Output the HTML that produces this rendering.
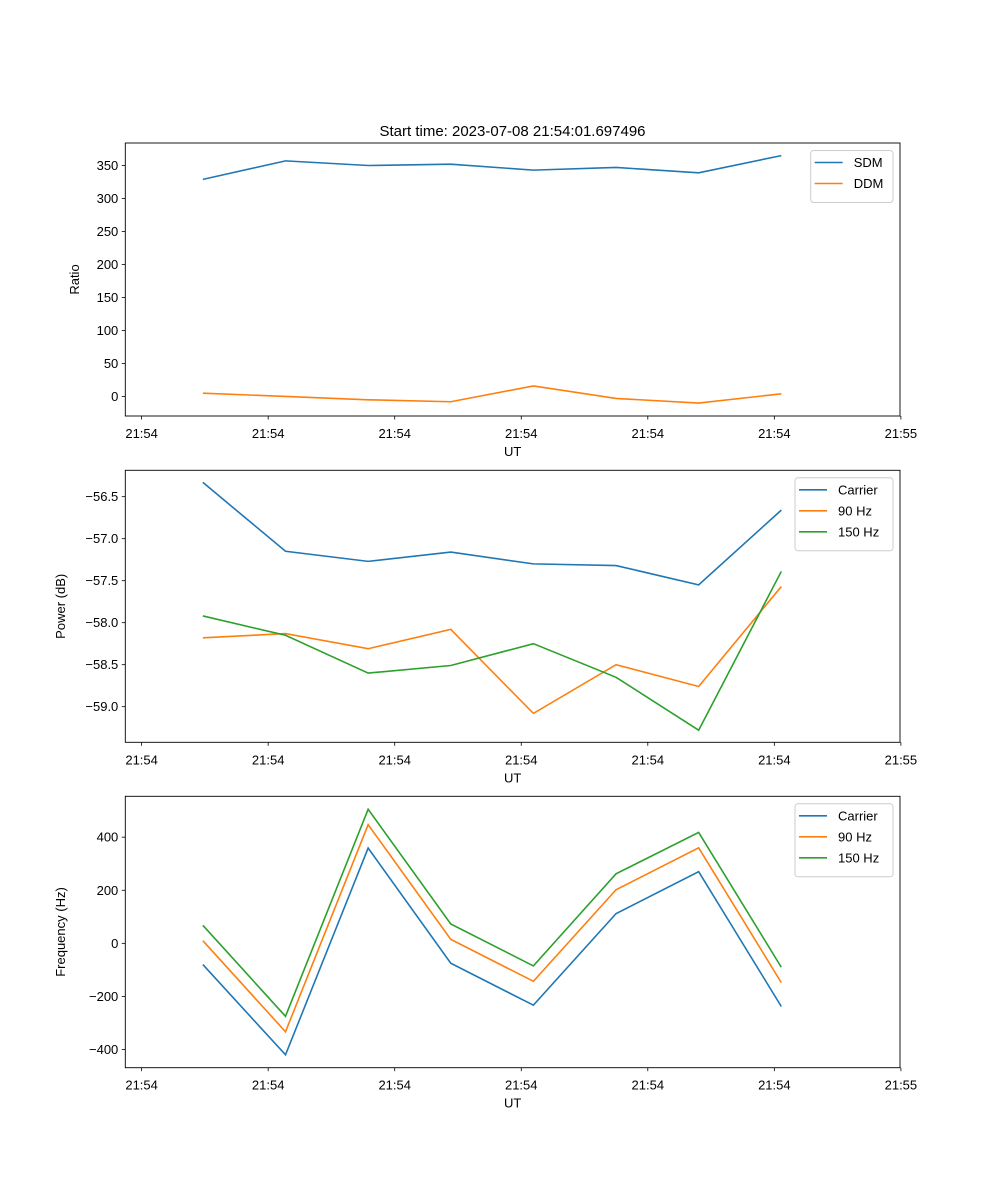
<!DOCTYPE html>
<html><head><meta charset="utf-8"><style>
body{margin:0;background:#fff}
svg{display:block;font-family:"Liberation Sans","DejaVu Sans",sans-serif}
</style></head><body>
<svg id="fig" width="1000" height="1200" viewBox="0 0 1000 1200" xmlns="http://www.w3.org/2000/svg">
<rect width="1000" height="1200" fill="#fff"/>
<text x="512.5" y="136" font-size="15" text-anchor="middle">Start time: 2023-07-08 21:54:01.697496</text>
</svg>
<script>
// sample times (seconds after 21:54:00)
const times = [4.84, 11.37, 17.9, 24.43, 30.96, 37.49, 44.02, 50.55];
const xTickVals = [0, 10, 20, 30, 40, 50, 60];
const xTickLabels = ["21:54","21:54","21:54","21:54","21:54","21:54","21:55"];
// panel 1
const sdm = [329, 357, 350, 352, 343, 347, 339, 365];
const ddm = [5, 0, -5, -8, 16, -3, -10, 4];
const ratioTicks = [0, 50, 100, 150, 200, 250, 300, 350];
// panel 2
const powCarrier = [-56.33, -57.15, -57.27, -57.16, -57.30, -57.32, -57.55, -56.66];
const pow90 = [-58.18, -58.13, -58.31, -58.08, -59.08, -58.50, -58.76, -57.57];
const pow150 = [-57.92, -58.15, -58.60, -58.51, -58.25, -58.65, -59.28, -57.39];
const powTicks = [-59.0, -58.5, -58.0, -57.5, -57.0, -56.5];
const powTickLabels = ["\u221259.0","\u221258.5","\u221258.0","\u221257.5","\u221257.0","\u221256.5"];
// panel 3
const freqCarrier = [-80, -420, 359, -75, -233, 112, 270, -238];
const freq90 = [10, -333, 447, 15, -143, 202, 360, -148];
const freq150 = [68, -275, 505, 73, -85, 262, 418, -90];
const freqTicks = [-400, -200, 0, 200, 400];
const freqTickLabels = ["\u2212400","\u2212200","0","200","400"];

const NS = "http://www.w3.org/2000/svg";
const svg = document.getElementById('fig');
const L = 125.3, R = 900;
const x = t => L + (t - (-1.29)) / (59.93 - (-1.29)) * (R - L);
function mk(tag, attrs, parent){const e=document.createElementNS(NS,tag);for(const k in attrs)e.setAttribute(k,attrs[k]);(parent||svg).appendChild(e);return e;}

function panel(id, top, bot, ymin, ymax, yTicks, yLabels, ylabel, series, legendW){
  const g = mk('g', {});
  
  
  const y = v => bot - (v - ymin) / (ymax - ymin) * (bot - top);
  yTicks.forEach((v,i)=>{
    const yy=y(v);
    const ln=mk('line',{x1:L-3.5,x2:L,y1:yy,y2:yy,stroke:'#000','stroke-width':0.8},g);
    
    
    const t=mk('text',{x:L-7,y:yy+4.5,'font-size':13,'text-anchor':'end'},g);
    
    
    t.textContent=yLabels[i];
  });
  xTickVals.forEach((v,i)=>{
    const xx=x(v);
    const ln=mk('line',{x1:xx,x2:xx,y1:bot,y2:bot+3.5,stroke:'#000','stroke-width':0.8},g);
    
    
    const t=mk('text',{x:xx,y:bot+22,'font-size':13,'text-anchor':'middle'},g);
    
    
    t.textContent=xTickLabels[i];
  });
  const xl=mk('text',{x:(L+R)/2,y:bot+40,'font-size':13,'text-anchor':'middle'},g);
  
  
  xl.textContent='UT';
  const cy=(top+bot)/2;
  const yl=mk('text',{x:0,y:0,'font-size':13,'text-anchor':'middle',transform:`translate(${id==='ratio'?79:65},${cy}) rotate(-90)`},g);
  
  
  yl.textContent=ylabel;
  series.forEach(s=>{
    const p=mk('polyline',{points:s.data.map((v,i)=>x(times[i])+','+y(v)).join(' '),fill:'none',stroke:s.color,'stroke-width':1.6},g);
    
    
  });
  const fr=mk('rect',{x:L,y:top,width:R-L,height:bot-top,fill:'none',stroke:'#000','stroke-width':0.9},g);
  
  
  const lx=893-legendW, ly=top+7.5, lh=10+series.length*21;
  const lg=mk('g',{},g);
  
  
  mk('rect',{x:lx,y:ly,width:legendW,height:lh,rx:3,fill:'#fff','fill-opacity':0.8,stroke:'#ccc','stroke-width':1},lg);
  series.forEach((s,i)=>{
    const ry=ly+12+i*21;
    const e=mk('g',{},lg);
    
    
    mk('line',{x1:lx+4,x2:lx+32,y1:ry,y2:ry,stroke:s.color,'stroke-width':1.6},e);
    const t=mk('text',{x:lx+43,y:ry+4.5,'font-size':13},e);
    t.textContent=s.name;
  });
}
const C1='#1f77b4',C2='#ff7f0e',C3='#2ca02c';
panel('ratio',143,416,-29.6,384.1,ratioTicks,ratioTicks.map(String),'Ratio',
  [{key:'sdm',name:'SDM',data:sdm,color:C1},{key:'ddm',name:'DDM',data:ddm,color:C2}],82.3);
panel('power',470.3,742.3,-59.424,-56.186,powTicks,powTickLabels,'Power (dB)',
  [{key:'carrier',name:'Carrier',data:powCarrier,color:C1},{key:'90hz',name:'90 Hz',data:pow90,color:C2},{key:'150hz',name:'150 Hz',data:pow150,color:C3}],98);
panel('frequency',796.3,1067.7,-468.5,554,freqTicks,freqTickLabels,'Frequency (Hz)',
  [{key:'carrier',name:'Carrier',data:freqCarrier,color:C1},{key:'90hz',name:'90 Hz',data:freq90,color:C2},{key:'150hz',name:'150 Hz',data:freq150,color:C3}],98);
</script>
</body></html>
